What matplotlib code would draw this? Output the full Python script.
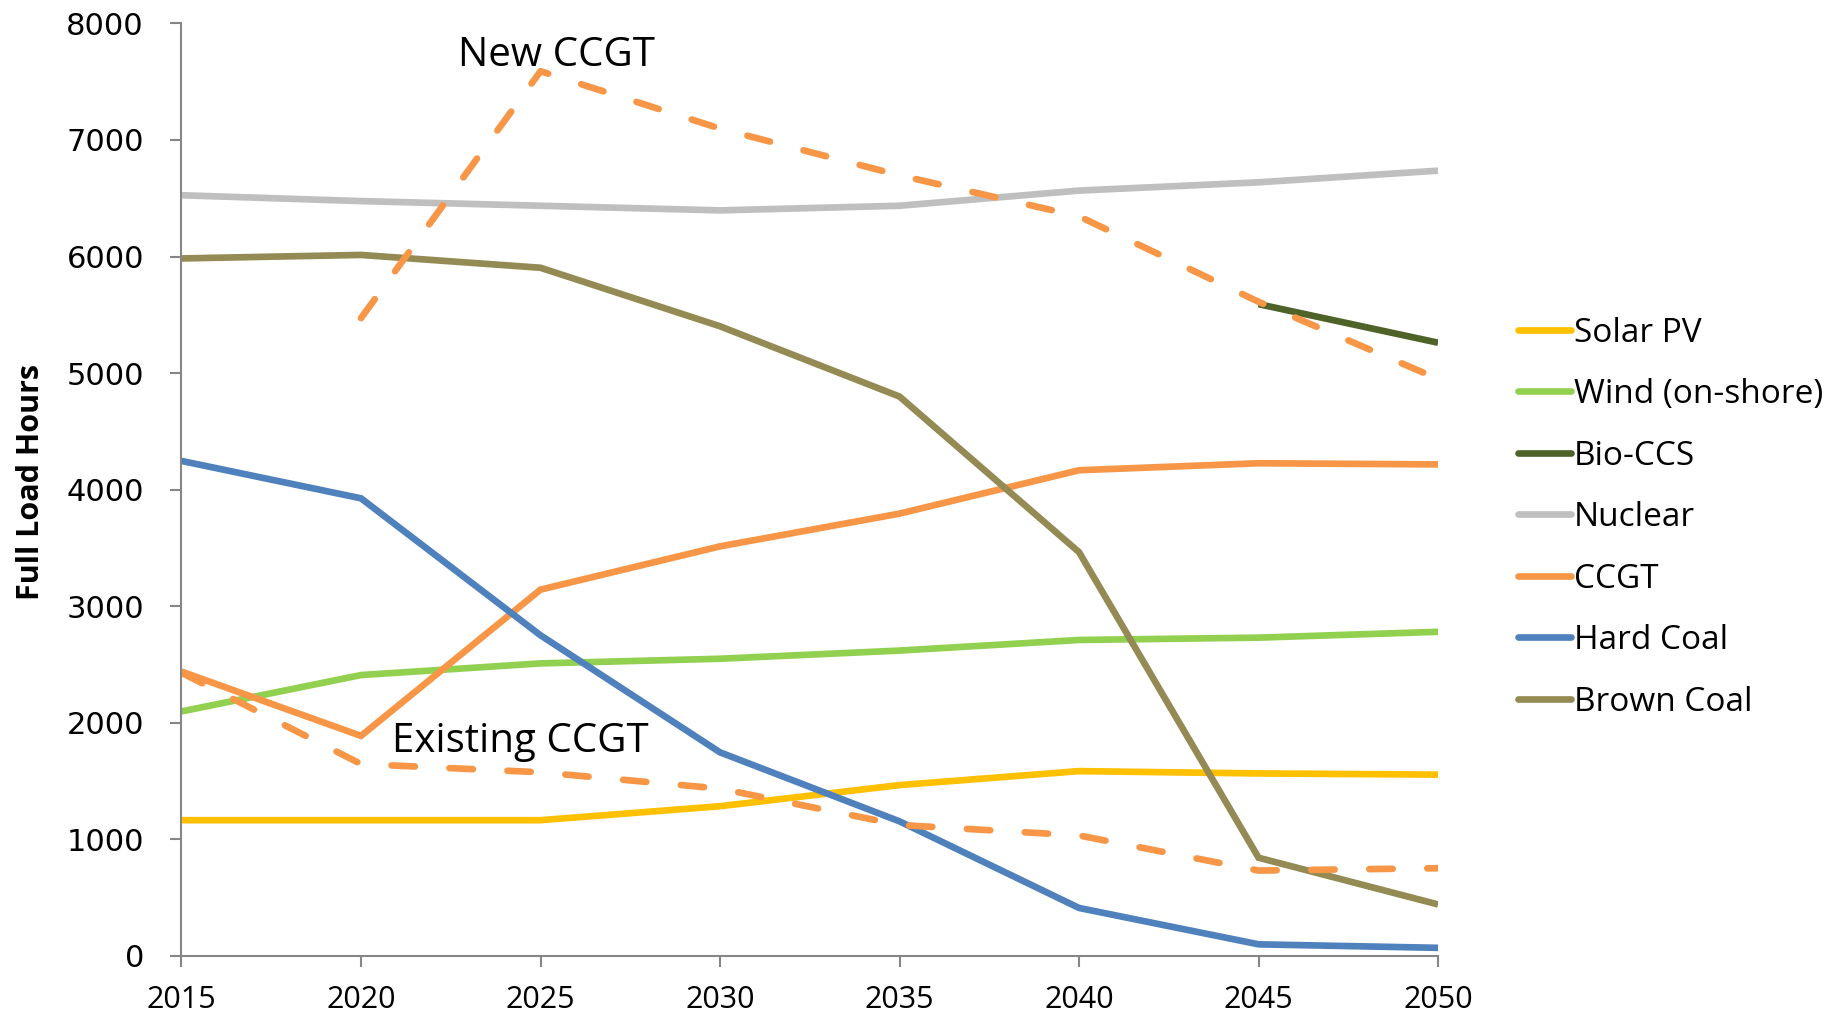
import matplotlib
matplotlib.use("Agg")
import matplotlib.pyplot as plt
from matplotlib import font_manager

years = [2015, 2020, 2025, 2030, 2035, 2040, 2045, 2050]

solar_pv = [1165, 1165, 1165, 1285, 1466, 1586, 1566, 1556]
wind_onshore = [2098, 2410, 2510, 2550, 2620, 2711, 2731, 2781]
bio_ccs_years = [2045, 2050]
bio_ccs = [5592, 5261]
nuclear = [6526, 6476, 6436, 6396, 6436, 6566, 6637, 6737]
ccgt = [2440, 1888, 3143, 3514, 3795, 4167, 4227, 4217]
hard_coal = [4247, 3926, 2751, 1747, 1155, 412, 100, 70]
brown_coal = [5984, 6014, 5904, 5402, 4799, 3464, 843, 442]

new_ccgt_years = [2020, 2025, 2030, 2035, 2040, 2045, 2050]
new_ccgt = [5472, 7590, 7098, 6697, 6345, 5612, 4950]
existing_ccgt = [2430, 1647, 1576, 1436, 1124, 1034, 733, 753]

series_labels = ["Solar PV", "Wind (on-shore)", "Bio-CCS", "Nuclear", "CCGT",
                 "Hard Coal", "Brown Coal"]
series_colors = ["#FFC000", "#92D050", "#4F6228", "#BFBFBF", "#F79646",
                 "#4F81BD", "#948A54"]

y_ticks = [0, 1000, 2000, 3000, 4000, 5000, 6000, 7000, 8000]

installed = {f.name for f in font_manager.fontManager.ttflist}
text_font = "Open Sans" if "Open Sans" in installed else "DejaVu Sans"

plt.rcParams["font.family"] = [text_font, "DejaVu Sans"]

fig = plt.figure(figsize=(18.35, 10.23), dpi=100)
ax = fig.add_axes([0.0989, 0.0655, 0.6848, 0.9116])

lw = 4.8
data = [
    (years, solar_pv),
    (years, wind_onshore),
    (bio_ccs_years, bio_ccs),
    (years, nuclear),
    (years, ccgt),
    (years, hard_coal),
    (years, brown_coal),
]
for (xs, ys), label, color in zip(data, series_labels, series_colors):
    ax.plot(xs, ys, color=color, lw=lw, label=label, solid_capstyle="butt",
            solid_joinstyle="miter")

dash = (0, (3.5, 5.2))
ax.plot(new_ccgt_years, new_ccgt, color="#F79646", lw=lw, linestyle=dash,
        dash_capstyle="round")
ax.plot(years, existing_ccgt, color="#F79646", lw=lw, linestyle=dash,
        dash_capstyle="round")

ax.text(2025.43, 7720, "New CCGT", fontsize=29, ha="center", va="center",
        color="black")
ax.text(2024.45, 1837, "Existing CCGT", fontsize=29, ha="center", va="center",
        color="black")

ax.set_xlim(2015, 2050)
ax.set_ylim(0, 8000)
ax.set_xticks(years)
ax.set_yticks(y_ticks)
ax.set_xticklabels([str(y) for y in years], fontsize=22)
ax.set_yticklabels([str(v) for v in y_ticks], fontsize=22, family=["DejaVu Sans"])

for side in ("top", "right"):
    ax.spines[side].set_visible(False)
for side in ("left", "bottom"):
    ax.spines[side].set_color("#868686")
    ax.spines[side].set_linewidth(1.5)
ax.tick_params(axis="both", direction="out", length=8, width=1.5,
               color="#868686", labelcolor="black")
ax.tick_params(axis="x", pad=13)
ax.tick_params(axis="y", pad=19)

ax.set_ylabel("Full Load Hours", fontsize=22, fontweight="bold")
ax.yaxis.set_label_coords(-0.1075, 0.508)

leg = ax.legend(loc="upper left", bbox_to_anchor=(1.053, 0.70), frameon=False,
                fontsize=24, handlelength=1.58, handletextpad=0.1,
                labelspacing=0.855, borderaxespad=0)
for line in leg.get_lines():
    line.set_linewidth(lw)
    line.set_solid_capstyle("round")

fig.savefig("out.png", dpi=100)
